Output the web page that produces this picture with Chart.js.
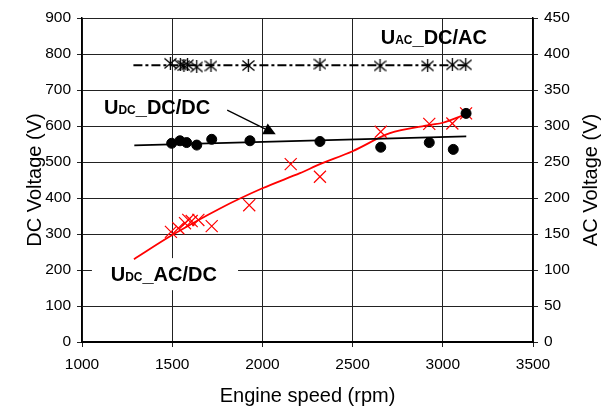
<!DOCTYPE html>
<html>
<head>
<meta charset="utf-8">
<script src="https://cdn.jsdelivr.net/npm/chart.js@4.4.0/dist/chart.umd.min.js"></script>
<style>
  body { margin: 0; background: #fff; }
</style>
</head>
<body>
<canvas id="voltageChart" width="607" height="408"></canvas>
<script>
// U_AC of the DC/AC converter (right axis, AC volts)
var acRpm = [1490, 1545, 1565, 1585, 1636, 1715, 1922, 2319, 2652, 2916, 3053, 3127];
var acVolt = [387, 385, 384, 385, 382, 383.5, 384, 386, 383.5, 383.5, 385, 385];
var acTrendRpm = [1285, 3130];
var acTrendVolt = [384.5, 384.5];

// U_DC of the DC/DC converter (left axis)
var dcdcRpm = [1497, 1543, 1580, 1636, 1719, 1931, 2319, 2656, 2925, 3058, 3129];
var dcdcVolt = [552, 559, 554, 547, 563, 559, 557, 541, 554, 535, 635];
var dcdcTrendRpm = [1290, 3130];
var dcdcTrendVolt = [546, 571];

// U_DC of the AC/DC converter (left axis)
var acdcRpm = [1493, 1534, 1571, 1589, 1608, 1645, 1719, 1927, 2157, 2319, 2656, 2925, 3053, 3129];
var acdcVolt = [306, 316, 330, 339, 336, 339, 322, 380, 494, 459, 584, 606, 607, 635];
var acdcTrendRpm = [1288, 1500, 1765, 2000, 2208, 2319, 2500, 2707, 2929, 3000, 3132];
var acdcTrendVolt = [230, 297, 371, 427, 469, 494, 530, 580, 603, 609, 633];

// axis ticks
var xTicks = [1000, 1500, 2000, 2500, 3000, 3500];
var yTicks = [0, 100, 200, 300, 400, 500, 600, 700, 800, 900];
var y2Ticks = [0, 50, 100, 150, 200, 250, 300, 350, 400, 450];

function toPoints(xs, ys) {
    var pts = [];
    for (var i = 0; i < xs.length; i++) {
        pts.push({ x: xs[i], y: ys[i] });
    }
    return pts;
}

// asterisk marker like the excel star (x plus a vertical bar)
var star = document.createElement('canvas');
star.width = 13;
star.height = 13;
var sctx = star.getContext('2d');
sctx.strokeStyle = '#000';
sctx.lineWidth = 1.3;
sctx.beginPath();
sctx.moveTo(0.5, 1.5); sctx.lineTo(12.5, 11.5);
sctx.moveTo(12.5, 1.5); sctx.lineTo(0.5, 11.5);
sctx.moveTo(6.5, 0); sctx.lineTo(6.5, 13);
sctx.stroke();

var FONT = '"Liberation Sans", Arial, sans-serif';

// where the text labels sit (in rpm / volts of the left axis)
var notes = [
    { main: 'U', sub: 'DC', rest: '_DC/DC', x: 1122, y: 633 },
    { main: 'U', sub: 'AC', rest: '_DC/AC', x: 2656, y: 828 },
    { main: 'U', sub: 'DC', rest: '_AC/DC', x: 1159, y: 169 }
];

var labelsPlugin = {
    id: 'labels',
    beforeDatasetsDraw: function(chart) {
        var c = chart.ctx, xs = chart.scales.x, ys = chart.scales.y;
        // white box behind the AC/DC label
        var x0 = xs.getPixelForValue(1055), x1 = xs.getPixelForValue(1865);
        var y0 = ys.getPixelForValue(233), y1 = ys.getPixelForValue(144);
        c.save();
        c.fillStyle = '#fff';
        c.fillRect(x0, y0, x1 - x0, y1 - y0);
        c.restore();
    },
    afterDatasetsDraw: function(chart) {
        var c = chart.ctx, xs = chart.scales.x, ys = chart.scales.y;
        c.save();
        c.fillStyle = '#000';
        c.textBaseline = 'alphabetic';
        c.textAlign = 'left';
        notes.forEach(function(n) {
            var px = xs.getPixelForValue(n.x), py = ys.getPixelForValue(n.y);
            c.font = 'bold 20px ' + FONT;
            c.fillText(n.main, px, py);
            px += c.measureText(n.main).width;
            c.font = 'bold 12px ' + FONT;
            c.fillText(n.sub, px, py);
            px += c.measureText(n.sub).width;
            c.font = 'bold 20px ' + FONT;
            c.fillText(n.rest, px, py);
        });

        // arrow pointing at the DC/DC trend line
        var ax = xs.getPixelForValue(1805), ay = ys.getPixelForValue(644);
        var tx = xs.getPixelForValue(2074), ty = ys.getPixelForValue(577);
        var ang = Math.atan2(ty - ay, tx - ax);
        var len = 12, half = 6;
        var bx = tx - len * Math.cos(ang), by = ty - len * Math.sin(ang);
        c.strokeStyle = '#000';
        c.lineWidth = 1.3;
        c.beginPath();
        c.moveTo(ax, ay);
        c.lineTo(bx, by);
        c.stroke();
        c.beginPath();
        c.moveTo(tx, ty);
        c.lineTo(bx + half * Math.sin(ang), by - half * Math.cos(ang));
        c.lineTo(bx - half * Math.sin(ang), by + half * Math.cos(ang));
        c.closePath();
        c.fill();

        // right axis title, read bottom to top like the left one
        var area = chart.chartArea;
        c.translate(591, (area.top + area.bottom) / 2);
        c.rotate(-Math.PI / 2);
        c.font = '20px ' + FONT;
        c.textAlign = 'center';
        c.textBaseline = 'middle';
        c.fillText('AC Voltage (V)', 0, 0);
        c.restore();
    }
};

function plain(v) { return String(v); }

var ctx = document.getElementById('voltageChart').getContext('2d');

new Chart(ctx, {
    type: 'scatter',
    data: {
        datasets: [
            {
                label: 'U_DC DC/DC',
                data: toPoints(dcdcRpm, dcdcVolt),
                yAxisID: 'y',
                pointStyle: 'circle',
                pointRadius: 5,
                backgroundColor: '#000',
                borderColor: '#000',
                showLine: false
            },
            {
                label: 'U_DC AC/DC',
                data: toPoints(acdcRpm, acdcVolt),
                yAxisID: 'y',
                pointStyle: 'crossRot',
                pointRadius: 8.5,
                borderColor: '#ff0000',
                borderWidth: 1.2,
                showLine: false
            },
            {
                label: 'U_AC DC/AC',
                data: toPoints(acRpm, acVolt),
                yAxisID: 'y2',
                pointStyle: star,
                showLine: false
            },
            {
                label: 'DC/DC trend',
                data: toPoints(dcdcTrendRpm, dcdcTrendVolt),
                yAxisID: 'y',
                showLine: true,
                pointRadius: 0,
                borderColor: '#000',
                borderWidth: 1.8
            },
            {
                label: 'AC/DC trend',
                data: toPoints(acdcTrendRpm, acdcTrendVolt),
                yAxisID: 'y',
                showLine: true,
                pointRadius: 0,
                borderColor: '#ff0000',
                borderWidth: 1.8,
                tension: 0.3
            },
            {
                label: 'DC/AC trend',
                data: toPoints(acTrendRpm, acTrendVolt),
                yAxisID: 'y2',
                showLine: true,
                pointRadius: 0,
                borderColor: '#000',
                borderWidth: 2,
                borderDash: [9, 3, 3, 3]
            }
        ]
    },
    options: {
        responsive: false,
        animation: false,
        devicePixelRatio: 1,
        layout: { padding: { top: 18, left: 0, right: 0, bottom: 0 } },
        plugins: {
            legend: { display: false },
            tooltip: { enabled: false }
        },
        scales: {
            x: {
                type: 'linear',
                min: 1000,
                max: 3500,
                afterBuildTicks: function(s) { s.ticks = xTicks.map(function(v) { return { value: v }; }); },
                afterFit: function(s) { s.height = 66; },
                grid: { color: '#222', lineWidth: 1, tickLength: 5 },
                border: { color: '#000', width: 2 },
                ticks: { color: '#000', padding: 8, maxRotation: 0, callback: plain, font: { family: FONT, size: 15.5 } },
                title: {
                    display: true,
                    text: 'Engine speed (rpm)',
                    color: '#000',
                    padding: { top: 0, bottom: 0 },
                    font: { family: FONT, size: 20 }
                }
            },
            y: {
                position: 'left',
                min: 0,
                max: 900,
                afterBuildTicks: function(s) { s.ticks = yTicks.map(function(v) { return { value: v }; }); },
                afterFit: function(s) { s.width = 82; },
                grid: { color: '#222', lineWidth: 1, tickLength: 5 },
                border: { color: '#000', width: 1.5 },
                ticks: { color: '#000', padding: 6, callback: plain, font: { family: FONT, size: 15.5 } },
                title: {
                    display: true,
                    text: 'DC Voltage (V)',
                    color: '#000',
                    padding: { top: 23, bottom: 0 },
                    font: { family: FONT, size: 20 }
                }
            },
            y2: {
                position: 'right',
                min: 0,
                max: 450,
                afterBuildTicks: function(s) { s.ticks = y2Ticks.map(function(v) { return { value: v }; }); },
                afterFit: function(s) { s.width = 74; },
                grid: { drawOnChartArea: false, color: '#222', tickLength: 5 },
                border: { color: '#000', width: 1.5 },
                ticks: { color: '#000', padding: 6, callback: plain, font: { family: FONT, size: 15.5 } }
            }
        }
    },
    plugins: [labelsPlugin]
});
</script>
</body>
</html>
